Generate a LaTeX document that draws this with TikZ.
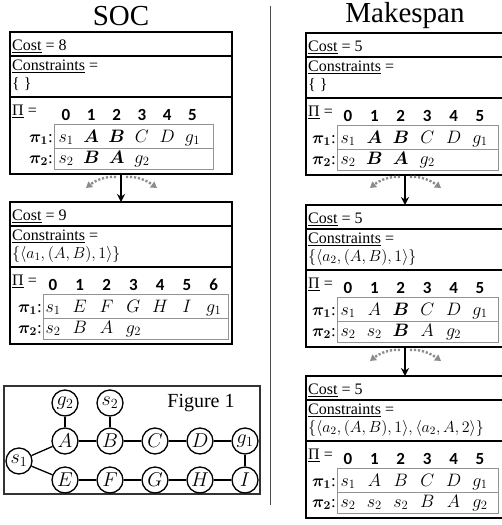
\RequirePackage{fix-cm}
\documentclass[tikz,border=0pt]{standalone}
\usepackage{amsmath}
\usepackage{bm}
\usepackage{fontspec}
\setmainfont{Liberation Serif}
\newfontfamily\hdrfont{Carlito}
\usetikzlibrary{arrows.meta}
\tikzset{
 outerbox/.style={draw, line width=2.4pt, inner sep=0pt, outer sep=0pt, anchor=north west},
 divider/.style={line width=2pt},
 txt/.style={anchor=base west, inner sep=0pt, font=\fontsize{16}{19}\selectfont},
 hdr/.style={anchor=base, inner sep=0pt, font=\fontsize{17}{20}\selectfont\hdrfont\bfseries},
 cell/.style={anchor=base, inner sep=0pt, font=\fontsize{18}{21}\selectfont},
 plab/.style={anchor=base east, inner sep=0pt, font=\fontsize{17}{20}\selectfont},
 tbl/.style={draw=gray!85, line width=0.8pt},
 mainarrow/.style={line width=1.8pt, -{Stealth[length=8pt,width=8pt]}},
 altarrow/.style={draw=black!45, line width=2.4pt, dash pattern=on 2.2pt off 1.8pt, -{Triangle[length=6pt,width=7pt]}},
 vtx/.style={circle, draw, line width=1.3pt, minimum size=26pt, inner sep=0pt, font=\fontsize{20}{23}\selectfont, fill=white},
 link/.style={line width=1.3pt},
 title/.style={inner sep=0pt, font=\fontsize{29}{32}\selectfont},
}
% #1 prefix, #2 top, #3 left, #4 right, #5 cost, #6 constraint set, #7 inner left, #8 inner right, #9 body
\newcommand\skel[9]{%
\begin{scope}[yshift=-#2pt, name prefix=#1-]
 \node[outerbox, minimum width=#4pt-#3pt, minimum height=142pt] (box) at (#3,0) {};
 \draw[divider] (#3,24) -- (#4,24) (#3,65) -- (#4,65);
 \node[txt] (cost) at (#3+2,18) {\underline{Cost} = #5};
 \node[txt] (cons) at (#3+2,38) {\underline{Constraints} =};
 \node[txt] (set) at (#3+2,56) {#6};
 \node[txt] (pi) at (#3+2,83) {\underline{Π} =};
 \draw[tbl] (#7,92) rectangle (#8,137) (#7,116) -- (#8,116);
 \node[plab] (p1) at (#7-1,110) {$\bm{\pi}_{\bm{1}}$:};
 \node[plab] (p2) at (#7-1,131) {$\bm{\pi}_{\bm{2}}$:};
 #9
\end{scope}}
\newcommand\hdrs[1]{\foreach \x [count=\i from 0] in {#1} \node[hdr] (h\i) at (\x,88) {\i};}
\newcommand\cells[3]{\foreach \x/\cont [count=\i] in {#3} \node[cell] (#1\i) at (\x,#2) {\cont};}
% #1 prefix, #2 center x, #3 start y
\newcommand\alts[3]{%
 \coordinate (#1a) at (#2-5,#3);
 \coordinate (#1l) at (#2-35,#3+11);
 \coordinate (#1b) at (#2+5,#3);
 \coordinate (#1r) at (#2+36,#3+11);
 \draw[altarrow] (#1a) .. controls (#2-15,#3-1) and (#2-25,#3+3) .. (#1l);
 \draw[altarrow] (#1b) .. controls (#2+15,#3-1) and (#2+25,#3+3) .. (#1r);
}
\begin{document}
\begin{tikzpicture}[x=1pt,y=-1pt]
\clip (0,0) rectangle (502,525);
\fill[white] (0,0) rectangle (502,525);

\node[title] (soc) at (121,16) {SOC};
\node[title] (mk) at (405,16) {Makespan};
\coordinate (septop) at (270,6);
\coordinate (sepbot) at (270,505);
\draw[line width=1pt, black!70] (septop) -- (sepbot);

% ---------- left column ----------
\skel{L1}{32}{10}{232}{8}{\{ \}}{54}{213}{%
 \hdrs{66,91.3,116.6,141.9,167.2,192.5}
 \cells{r1}{110}{66/$s_1$,91.3/$\bm{A}$,116.6/$\bm{B}$,141.9/$C$,167.2/$D$,192.5/$g_1$}
 \cells{r2}{131}{66/$s_2$,91.3/$\bm{B}$,116.6/$\bm{A}$,141.9/$g_2$}
}
\skel{L2}{202}{10}{232}{9}{$\{\langle a_1,(A,B),1\rangle\}$}{43}{228}{%
 \hdrs{53,79.8,106.6,133.4,160.2,187,213.8}
 \cells{r1}{110}{53/$s_1$,79.8/$E$,106.6/$F$,133.4/$G$,160.2/$H$,187/$I$,213.8/$g_1$}
 \cells{r2}{131}{53/$s_2$,79.8/$B$,106.6/$A$,133.4/$g_2$}
}
\draw[mainarrow] (L1-box.south) -- (L2-box.north);
\alts{LA}{121}{177}

% ---------- right column ----------
\skel{R1}{33}{306}{504}{5}{\{ \}}{337}{498}{%
 \hdrs{348,374.4,400.8,427.2,453.6,480}
 \cells{r1}{110}{348/$s_1$,374.4/$\bm{A}$,400.8/$\bm{B}$,427.2/$C$,453.6/$D$,480/$g_1$}
 \cells{r2}{131}{348/$s_2$,374.4/$\bm{B}$,400.8/$\bm{A}$,427.2/$g_2$}
}
\skel{R2}{205}{306}{504}{5}{$\{\langle a_2,(A,B),1\rangle\}$}{337}{498}{%
 \hdrs{348,374.4,400.8,427.2,453.6,480}
 \cells{r1}{110}{348/$s_1$,374.4/$A$,400.8/$\bm{B}$,427.2/$C$,453.6/$D$,480/$g_1$}
 \cells{r2}{131}{348/$s_2$,374.4/$s_2$,400.8/$\bm{B}$,427.2/$A$,453.6/$g_2$}
}
\skel{R3}{376}{306}{504}{5}{$\{\langle a_2,(A,B),1\rangle,\langle a_2,A,2\rangle\}$}{337}{498}{%
 \hdrs{348,374.4,400.8,427.2,453.6,480}
 \cells{r1}{110}{348/$s_1$,374.4/$A$,400.8/$B$,427.2/$C$,453.6/$D$,480/$g_1$}
 \cells{r2}{131}{348/$s_2$,374.4/$s_2$,400.8/$s_2$,427.2/$B$,453.6/$A$,480/$g_2$}
}
\draw[mainarrow] (R1-box.south) -- (R2-box.north);
\draw[mainarrow] (R2-box.south) -- (R3-box.north);
\alts{RA}{405}{177}
\alts{RB}{405}{350}

% ---------- Figure 1 ----------
\node[draw=black!80, line width=1.2pt, inner sep=0pt, outer sep=0pt, anchor=north west,
      minimum width=256pt, minimum height=108pt] (figbox) at (4,386) {};
\node[inner sep=0pt, font=\fontsize{20}{24}\selectfont] (figlab) at (201,403) {Figure 1};
\node[vtx] (g2) at (65,403) {$g_2$};
\node[vtx] (s2) at (110,403) {$s_2$};
\node[vtx] (A) at (65,441) {$A$};
\node[vtx] (B) at (110,441) {$B$};
\node[vtx] (C) at (155,441) {$C$};
\node[vtx] (D) at (200,441) {$D$};
\node[vtx] (g1) at (245,441) {$g_1$};
\node[vtx] (s1) at (19,461) {$s_1$};
\node[vtx] (E) at (65,480) {$E$};
\node[vtx] (F) at (110,480) {$F$};
\node[vtx] (G) at (155,480) {$G$};
\node[vtx] (H) at (200,480) {$H$};
\node[vtx] (I) at (245,480) {$I$};
\draw[link] (s1) -- (A);
\draw[link] (s1) -- (E);
\draw[link] (g2) -- (A);
\draw[link] (s2) -- (B);
\draw[link] (A) -- (B);
\draw[link] (B) -- (C);
\draw[link] (C) -- (D);
\draw[link] (D) -- (g1);
\draw[link] (g1) -- (I);
\draw[link] (E) -- (F);
\draw[link] (F) -- (G);
\draw[link] (G) -- (H);
\draw[link] (H) -- (I);
\end{tikzpicture}
\end{document}
